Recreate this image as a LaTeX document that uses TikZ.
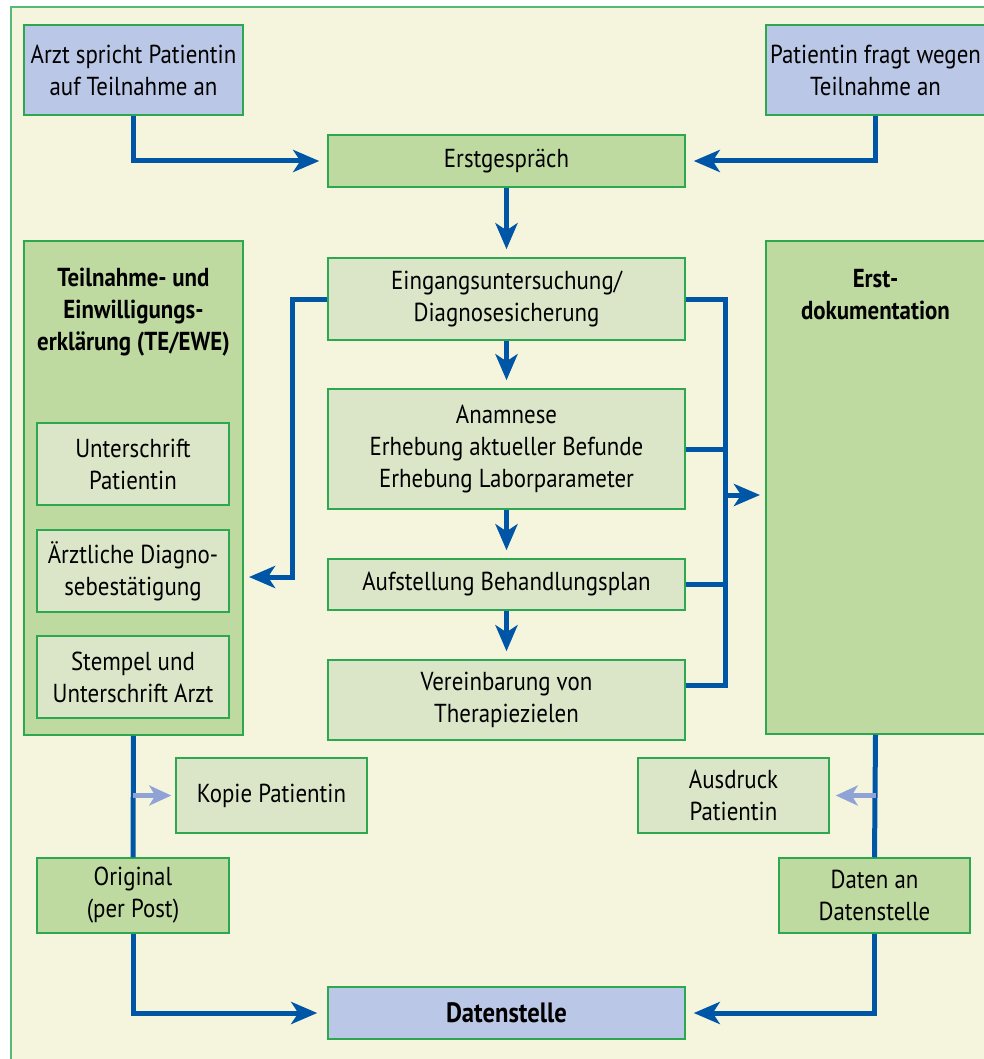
\documentclass[tikz,border=0pt]{standalone}
\usepackage{fontspec}
\setmainfont{PT Sans}[FakeStretch=0.88]
\usetikzlibrary{arrows.meta}

\definecolor{cream}{RGB}{245,245,221}
\definecolor{framegreen}{RGB}{84,186,118}
\definecolor{boxline}{RGB}{46,168,80}
\definecolor{bluefill}{RGB}{187,199,230}
\definecolor{greenfill}{RGB}{191,218,161}
\definecolor{palefill}{RGB}{219,230,200}
\definecolor{flowblue}{RGB}{0,86,166}
\definecolor{softblue}{RGB}{144,163,214}

\tikzset{
  box/.style={draw=boxline, line width=1.5pt, inner sep=0pt, align=center},
  bluebox/.style={box, fill=bluefill},
  greenbox/.style={box, fill=greenfill},
  palebox/.style={box, fill=palefill},
  line/.style={draw=flowblue, line width=5pt},
  flow/.style={line, -{Stealth[length=26pt, width=22pt, inset=7pt]}, shorten >=8pt},
  softflow/.style={draw=softblue, line width=5pt, -{Stealth[length=22pt, width=20pt, inset=6pt]}, shorten >=4pt}
}

\begin{document}
\begin{tikzpicture}[x=1pt, y=-1pt, font=\fontsize{26}{32}\selectfont]

% Background and frame, cut at the right and bottom edges
\clip (0,0) rectangle (984,1059);
\fill [white] (0,0) rectangle (984,1059);
\draw [fill=cream, draw=framegreen, line width=2pt] (11,7) rectangle (1010,1090);

% Start of the process
\node [bluebox, minimum width=219pt, minimum height=90pt] (arzt) at (133.5,70) {Arzt spricht Patientin\\auf Teilnahme an};
\node [bluebox, minimum width=219pt, minimum height=90pt] (fragt) at (875.5,70) {Patientin fragt wegen\\Teilnahme an};
\node [greenbox, minimum width=357pt, minimum height=52pt] (erst) at (506.5,161) {Erstgespräch};

% Steps in the middle column
\node [palebox, minimum width=357pt, minimum height=82pt] (eingang) at (506.5,299) {Eingangsuntersuchung/\\Diagnosesicherung};
\node [palebox, minimum width=357pt, minimum height=120pt] (anamnese) at (506.5,449) {Anamnese\\Erhebung aktueller Befunde\\Erhebung Laborparameter};
\node [palebox, minimum width=357pt, minimum height=51pt] (plan) at (506.5,584.5) {Aufstellung Behandlungsplan};
\node [palebox, minimum width=357pt, minimum height=80pt] (ziele) at (506.5,700) {Vereinbarung von\\Therapiezielen};

% Declaration on the left with its three parts
\node [greenbox, minimum width=219pt, minimum height=494pt] (tebox) at (133.5,488) {};
\node [align=center, font=\fontsize{26}{32}\selectfont\bfseries] (tetitle) at (133.5,312) {Teilnahme- und\\Einwilligungs-\\erklärung (TE/EWE)};
\node [palebox, minimum width=192pt, minimum height=82pt] (unterschrift) at (133,464) {Unterschrift\\Patientin};
\node [palebox, minimum width=192pt, minimum height=82pt] (diagnose) at (133,571) {Ärztliche Diagno-\\sebestätigung};
\node [palebox, minimum width=192pt, minimum height=82pt] (stempel) at (133,677) {Stempel und\\Unterschrift Arzt};

% Documentation on the right
\node [greenbox, minimum width=219pt, minimum height=493pt] (dokbox) at (875.5,487.5) {};
\node [align=center, font=\fontsize{26}{32}\selectfont\bfseries] (doktitle) at (875.5,295) {Erst-\\dokumentation};

% Copies and the way to the data office
\node [palebox, minimum width=191pt, minimum height=75pt] (kopie) at (271.5,795.5) {Kopie Patientin};
\node [greenbox, minimum width=192pt, minimum height=75pt] (original) at (133,895.5) {Original\\(per Post)};
\node [palebox, minimum width=191pt, minimum height=75pt] (ausdruck) at (733.5,795.5) {Ausdruck\\Patientin};
\node [greenbox, minimum width=191pt, minimum height=75pt] (daten) at (874.5,895.5) {Daten an\\Datenstelle};
\node [bluebox, minimum width=357pt, minimum height=52pt, font=\fontsize{28}{32}\selectfont\bfseries] (datenstelle) at (506.5,1013) {Datenstelle};

% Branch points of the connectors
\coordinate (leftbend) at (292,299);
\coordinate (tein) at (243,577);
\coordinate (bustop) at (725,299);
\coordinate (busbottom) at (725,685);
\coordinate (busout) at (725,495);
\coordinate (dokin) at (766,495);
\coordinate (kopiefork) at (133,795.5);
\coordinate (ausdruckfork) at (875.5,795.5);

% Into the first talk
\draw [flow] (arzt.south) |- (erst.west);
\draw [flow] (fragt.south) |- (erst.east);

% Down the middle column
\draw [flow] (erst.south) -- (eingang.north);
\draw [flow] (eingang.south) -- (anamnese.north);
\draw [flow] (anamnese.south) -- (plan.north);
\draw [flow] (plan.south) -- (ziele.north);

% Out to the declaration
\draw [flow, shorten >=6pt] (eingang.west) -- (leftbend) |- (tein);

% Collecting line to the documentation
\draw [line] (eingang.east) -- (bustop) -- (busbottom) -- ([yshift=15pt]ziele.east);
\draw [line] (anamnese.east) -- (anamnese.east -| bustop);
\draw [line] (plan.east) -- (plan.east -| bustop);
\draw [flow, shorten >=6pt] (busout) -- (dokin);

% Down the left and right sides
\draw [line] (tebox.south) -- (original.north);
\draw [softflow] (kopiefork) -- (kopie.west);
\draw [flow, shorten >=10pt] (original.south) |- (datenstelle.west);
\draw [line] (dokbox.south) -- (daten.north);
\draw [softflow, shorten >=6pt] (ausdruckfork) -- (ausdruck.east);
\draw [flow] (daten.south) |- (datenstelle.east);

\end{tikzpicture}
\end{document}
